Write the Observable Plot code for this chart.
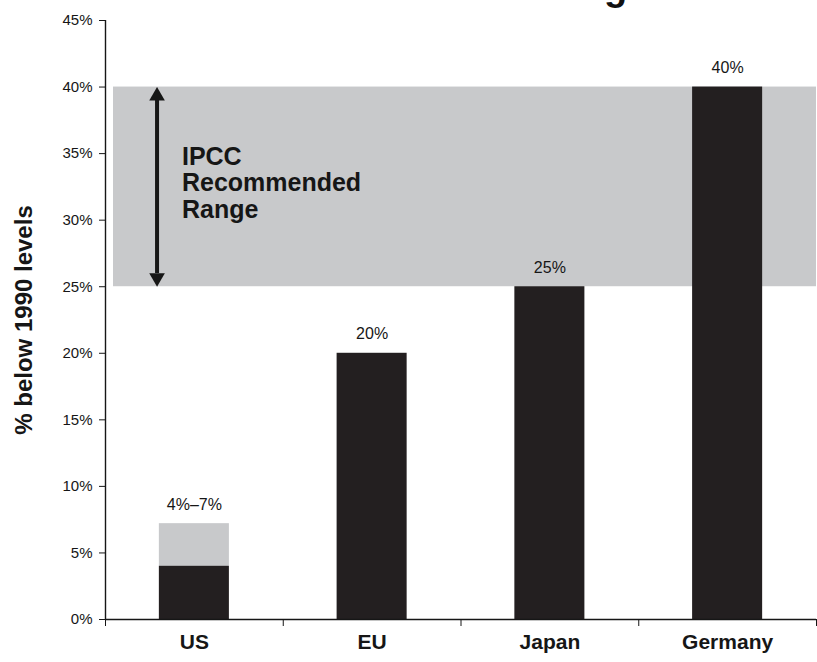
<!DOCTYPE html>
<html><head><meta charset="utf-8">
<script src="https://cdn.jsdelivr.net/npm/d3@7"></script>
<script src="https://cdn.jsdelivr.net/npm/@observablehq/plot@0.6"></script>
<style>
html,body{margin:0;padding:0;background:#fff;overflow:hidden;}
#wrap{position:relative;width:817px;height:662px;}
#title{position:absolute;left:427px;top:-32.5px;transform:translateX(-50%);font:bold 38px "Liberation Sans",Arial,Helvetica,sans-serif;line-height:38px;white-space:nowrap;color:#111;}
</style></head><body>
<div id="wrap"><div id="title">Emission Reduction Targets</div><div id="chart"></div></div>
<script>
const categories = ["US", "EU", "Japan", "Germany"];
const lowValues = [4, 20, 25, 40];
const highValues = [7.2, 20, 25, 40];
const valueLabels = ["4%–7%", "20%", "25%", "40%"];
const yTicks = [0, 5, 10, 15, 20, 25, 30, 35, 40, 45];
const rangeLow = 25;
const rangeHigh = 40;
const rangeLabel = "IPCC\nRecommended\nRange";
const yLabel = "% below 1990 levels";

const data = categories.map((c, i) => ({category: c, pos: i + 0.5, low: lowValues[i], high: highValues[i], label: valueLabels[i]}));
const half = 0.197;
const ink = "#161616";

const chart = Plot.plot({
  width: 817,
  height: 662,
  marginTop: 20,
  marginBottom: 43,
  marginLeft: 105,
  marginRight: 1,
  style: {fontFamily: "'Liberation Sans', Arial, Helvetica, sans-serif", color: ink, background: "white"},
  x: {type: "linear", domain: [0, categories.length], axis: null},
  y: {domain: [0, 45], axis: null},
  marks: [
    Plot.rect([rangeLow], {x1: 0, x2: categories.length, y1: rangeLow, y2: rangeHigh, fill: "#c8c9cb", insetLeft: 8}),
    Plot.rectY(data, {x1: d => d.pos - half, x2: d => d.pos + half, y1: "low", y2: "high", fill: "#c8c9cb"}),
    Plot.rectY(data, {x1: d => d.pos - half, x2: d => d.pos + half, y1: 0, y2: "low", fill: "#231f20"}),
    Plot.text(data, {x: "pos", y: "high", text: "label", dy: -19, fontSize: 16, fill: ink}),
    Plot.ruleX([0], {x: 0.29, y1: rangeLow + 1, y2: rangeHigh - 1, stroke: ink, strokeWidth: 4}),
    Plot.dot([rangeHigh], {x: 0.29, y: d => d, symbol: "triangle", r: 5.8, fill: ink, stroke: null, dy: 9}),
    Plot.dot([rangeLow], {x: 0.29, y: d => d, symbol: "triangle", r: 5.8, fill: ink, stroke: null, rotate: 180, dy: -9}),
    Plot.text([rangeLabel], {x: 0.43, y: 32.8, textAnchor: "start", fontSize: 25, fontWeight: "bold", lineHeight: 1.05, fill: ink}),
    Plot.axisY(yTicks, {tickFormat: d => d + "%", tickSize: 6, tickPadding: 7, fontSize: 15, label: null, stroke: ink, fill: ink}),
    Plot.ruleX([0], {stroke: ink, strokeWidth: 1.4}),
    Plot.ruleY([0], {stroke: ink, strokeWidth: 1.4}),
    Plot.axisX(d3.range(0, categories.length + 1), {tickSize: 7, tickFormat: () => "", label: null, stroke: ink}),
    Plot.text(data, {x: "pos", frameAnchor: "bottom", dy: 29, text: "category", fontSize: 21, fontWeight: "bold", fill: ink}),
    Plot.text([yLabel], {frameAnchor: "left", textAnchor: "middle", dx: -81, rotate: -90, fontSize: 24, fontWeight: "bold", fill: ink})
  ]
});
document.getElementById("chart").append(chart);
</script>
</body></html>
